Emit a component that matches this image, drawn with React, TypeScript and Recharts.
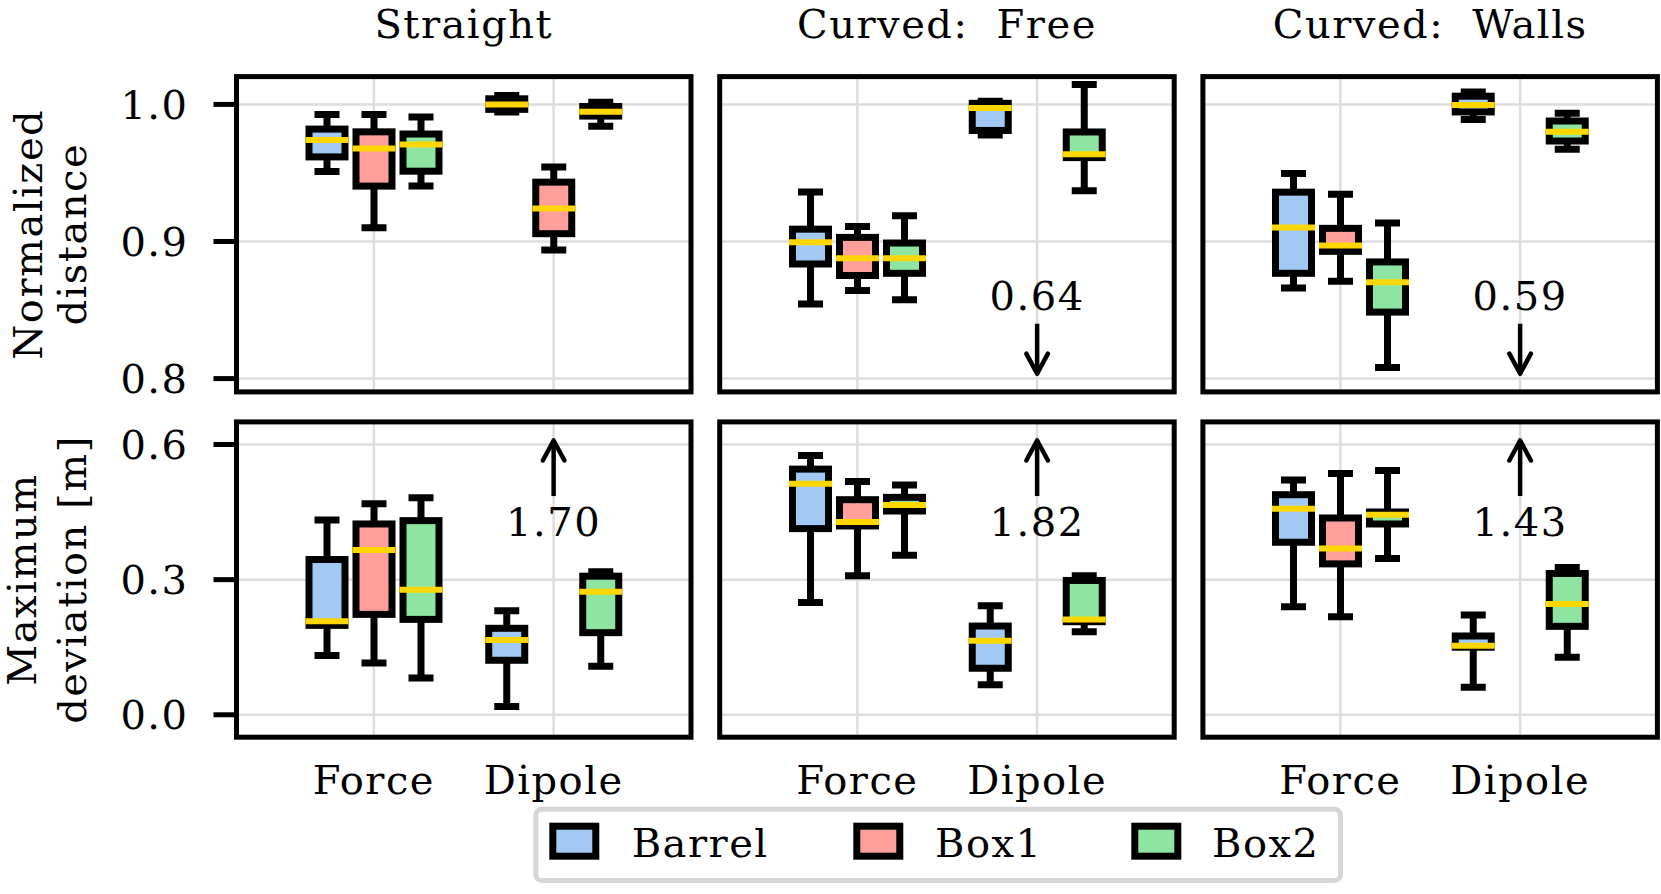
import React from 'react';
import { ComposedChart, Bar, XAxis, YAxis, CartesianGrid, ReferenceDot, ReferenceLine } from 'recharts';

type Box = number[] | null;

const FONT = '"DejaVu Serif", serif';

const CATEGORIES = ['Force', 'Dipole'];
const SERIES = ['Barrel', 'Box1', 'Box2'];
const SERIES_COLORS = ['#a1c9f4', '#ff9f9b', '#8de5a1'];
const MEDIAN_COLOR = '#ffd700';
const PANEL_TITLES = ['Straight', 'Curved: Free', 'Curved: Walls'];
const ROW_LABELS = [
  ['Normalized', 'distance'],
  ['Maximum', 'deviation [m]'],
];
const DIST_TICKS = [0.8, 0.9, 1.0];
const DEV_TICKS = [0.0, 0.3, 0.6];
const DIST_DOMAIN = [0.79, 1.02];
const DEV_DOMAIN = [-0.05, 0.65];

// each box: [lower whisker, Q1, median, Q3, upper whisker]
// rows: Force, Dipole ; columns: Barrel, Box1, Box2
const distStraight: Box[][] = [
  [[0.951, 0.9617, 0.974, 0.982, 0.9927], [0.91, 0.9404, 0.9678, 0.98, 0.9927], [0.9404, 0.9513, 0.9707, 0.9784, 0.9908]],
  [[0.9944, 0.9964, 1.0, 1.0041, 1.0065], [0.8938, 0.9057, 0.924, 0.9433, 0.9544], [0.984, 0.9915, 0.9947, 0.9985, 1.0015]],
];
const distFree: Box[][] = [
  [[0.8545, 0.8836, 0.8994, 0.909, 0.9362], [0.8642, 0.8752, 0.8878, 0.903, 0.911], [0.8575, 0.8768, 0.8878, 0.8989, 0.9188]],
  [[0.9777, 0.981, 0.9974, 1.0008, 1.0024], null, [0.937, 0.9612, 0.9636, 0.9799, 1.0145]],
];
const distWalls: Box[][] = [
  [[0.866, 0.8768, 0.9103, 0.936, 0.9496], [0.871, 0.8928, 0.897, 0.9096, 0.9345], [0.808, 0.8485, 0.8703, 0.8851, 0.9135]],
  [[0.989, 0.9945, 0.9995, 1.006, 1.009], null, [0.9673, 0.9733, 0.98, 0.9879, 0.9935]],
];
const devStraight: Box[][] = [
  [[0.1314, 0.1985, 0.2074, 0.3447, 0.4325], [0.115, 0.2229, 0.366, 0.4236, 0.4686], [0.0819, 0.2118, 0.2775, 0.431, 0.482]],
  [[0.0185, 0.121, 0.166, 0.192, 0.231], null, [0.1077, 0.1823, 0.273, 0.3077, 0.3173]],
];
const devFree: Box[][] = [
  [[0.2494, 0.4133, 0.5129, 0.5454, 0.5756], [0.3085, 0.4192, 0.428, 0.4775, 0.5181], [0.3542, 0.4524, 0.4657, 0.4827, 0.51]],
  [[0.0664, 0.1033, 0.1646, 0.197, 0.242], null, [0.1845, 0.2066, 0.2118, 0.2982, 0.3085]],
];
const devWalls: Box[][] = [
  [[0.2399, 0.383, 0.4576, 0.4886, 0.521], [0.2177, 0.335, 0.369, 0.4369, 0.5358], [0.3469, 0.4236, 0.4443, 0.4502, 0.5424]],
  [[0.0613, 0.15, 0.1535, 0.1749, 0.2214], null, [0.1277, 0.1963, 0.2458, 0.3137, 0.327]],
];

// off-scale Box1 / Dipole medians, shown as text with an arrow
const distOffscale: (number | null)[] = [null, 0.64, 0.59];
const devOffscale: (number | null)[] = [1.7, 1.82, 1.43];

const DIST = [distStraight, distFree, distWalls];
const DEV = [devStraight, devFree, devWalls];

// layout
const PLOT_W = 454.5;
const PLOT_H = 315.3;
const COL_X = [236.5, 719.7, 1202.9];
const ROW_Y = [76.6, 421.9];
const MT = 10;
const MR = 3;
const ML = 10;
const XAXIS_H = 70;
const ANN = [
  { textY: 0.8497, tail: 0.84, tip: 0.8036, up: false },
  { textY: 0.397, tail: 0.4856, tip: 0.609, up: true },
];
const LEGEND_PATCH_X = [549.3, 853.3, 1131.3];
const LEGEND_TEXT_X = [631.7, 935, 1212];

const textStyle = { fill: '#000', fontSize: 40, fontFamily: FONT, letterSpacing: 1.5 };

function BoxShape(props: any) {
  const { x, y, width, height, box, color } = props;
  if (!box || !isFinite(y) || !isFinite(height) || !isFinite(x)) return <g />;
  const top = Math.min(y, y + height);
  const h = Math.abs(height);
  const [lo, q1, med, q3, hi] = box;
  const ppu = h / (hi - lo);
  const Y = (v: number) => top + (hi - v) * ppu;
  const cx = x + width / 2;
  const lw = 7;
  const capW = 25;
  return (
    <g>
      <line x1={cx} x2={cx} y1={Y(hi)} y2={Y(q3)} stroke="#000" strokeWidth={lw} />
      <line x1={cx} x2={cx} y1={Y(q1)} y2={Y(lo)} stroke="#000" strokeWidth={lw} />
      <line x1={cx - capW / 2} x2={cx + capW / 2} y1={Y(hi)} y2={Y(hi)} stroke="#000" strokeWidth={lw} />
      <line x1={cx - capW / 2} x2={cx + capW / 2} y1={Y(lo)} y2={Y(lo)} stroke="#000" strokeWidth={lw} />
      <rect x={x} y={Y(q3)} width={width} height={Y(q1) - Y(q3)} fill={color} stroke="#000" strokeWidth={lw} />
      <line x1={x - lw / 2} x2={x + width + lw / 2} y1={Y(med)} y2={Y(med)} stroke={MEDIAN_COLOR} strokeWidth={6} />
    </g>
  );
}

function Panel({ row, col }: { row: number; col: number }) {
  const boxes = (row === 0 ? DIST : DEV)[col];
  const data = CATEGORIES.map((c, i) => ({ cat: c, Barrel: boxes[i][0], Box1: boxes[i][1], Box2: boxes[i][2] }));
  const isLeft = col === 0;
  const isBottom = row === 1;
  const leftSpace = isLeft ? COL_X[0] : ML;
  const width = leftSpace + PLOT_W + MR;
  const height = MT + PLOT_H + (isBottom ? XAXIS_H : MT);
  const off = (row === 0 ? distOffscale : devOffscale)[col];
  const ann = ANN[row];
  return (
    <div style={{ position: 'absolute', left: COL_X[col] - leftSpace, top: ROW_Y[row] - MT }}>
      <ComposedChart
        width={width}
        height={height}
        data={data}
        margin={{ top: MT, right: MR, bottom: isBottom ? 0 : MT, left: isLeft ? 0 : ML }}
        barSize={36}
        barGap={11}
      >
        <CartesianGrid stroke="#dddddd" strokeWidth={2.5} />
        <XAxis
          dataKey="cat"
          type="category"
          hide={!isBottom}
          height={XAXIS_H}
          padding={{ left: 47.5, right: 47.5 }}
          axisLine={false}
          tickLine={false}
          tickSize={0}
          tickMargin={28}
          interval={0}
          tick={textStyle}
        />
        <YAxis
          type="number"
          domain={row === 0 ? DIST_DOMAIN : DEV_DOMAIN}
          ticks={row === 0 ? DIST_TICKS : DEV_TICKS}
          allowDataOverflow
          hide={!isLeft}
          width={isLeft ? COL_X[0] : 0}
          axisLine={false}
          tickLine={{ stroke: '#000', strokeWidth: 5 }}
          tickSize={23}
          tickMargin={25}
          tickFormatter={(v: number) => v.toFixed(1)}
          tick={textStyle}
        />
        {SERIES.map((s, si) => (
          <Bar
            key={s}
            dataKey={(d: any) => (d[s] ? [d[s][0], d[s][4]] : null)}
            barSize={36}
            isAnimationActive={false}
            shape={(p: any) => <BoxShape {...p} box={p.payload ? p.payload[s] : null} color={SERIES_COLORS[si]} />}
          />
        ))}
        {off != null && (
          <ReferenceLine
            segment={[{ x: 'Dipole', y: ann.tail }, { x: 'Dipole', y: ann.tip }]}
            stroke="#000"
            strokeWidth={4.5}
            ifOverflow="visible"
          />
        )}
        {off != null && (
          <ReferenceDot
            x="Dipole"
            y={ann.tip}
            ifOverflow="visible"
            shape={(p: any) => {
              const d = ann.up ? -1 : 1;
              return (
                <path
                  d={`M ${p.cx - 10.8} ${p.cy - d * 20} L ${p.cx} ${p.cy} L ${p.cx + 10.8} ${p.cy - d * 20}`}
                  stroke="#000"
                  strokeWidth={4.5}
                  fill="none"
                  strokeLinecap="round"
                  strokeLinejoin="round"
                />
              );
            }}
          />
        )}
        {off != null && (
          <ReferenceDot
            x="Dipole"
            y={ann.textY}
            ifOverflow="visible"
            shape={(p: any) => (
              <text x={p.cx} y={p.cy} textAnchor="middle" style={textStyle as any}>
                {off.toFixed(2)}
              </text>
            )}
          />
        )}
      </ComposedChart>
    </div>
  );
}

export default function App() {
  const rows = [0, 1];
  const cols = [0, 1, 2];
  return (
    <div
      style={{
        position: 'absolute',
        left: 0,
        top: 0,
        width: 1661,
        height: 894,
        overflow: 'hidden',
        background: '#fff',
        fontFamily: FONT,
      }}
    >
      {rows.map((r) => cols.map((c) => <Panel key={`${r}-${c}`} row={r} col={c} />))}
      <svg
        width={1661}
        height={894}
        style={{ position: 'absolute', left: 0, top: 0, pointerEvents: 'none' }}
      >
        {rows.map((r) =>
          cols.map((c) => (
            <rect
              key={`f${r}${c}`}
              x={COL_X[c]}
              y={ROW_Y[r]}
              width={PLOT_W}
              height={PLOT_H}
              fill="none"
              stroke="#000"
              strokeWidth={5}
            />
          ))
        )}
        {PANEL_TITLES.map((t, c) => (
          <text
            key={t}
            x={COL_X[c] + PLOT_W / 2}
            y={37.5}
            textAnchor="middle"
            style={{ ...(textStyle as any), wordSpacing: 14 }}
          >
            {t}
          </text>
        ))}
        {ROW_LABELS.map((lines, r) => {
          const cy = ROW_Y[r] + PLOT_H / 2;
          const xs = r === 0 ? [42, 86] : [36, 86];
          return lines.map((ln, i) => (
            <text
              key={ln}
              x={xs[i]}
              y={cy}
              textAnchor="middle"
              transform={`rotate(-90 ${xs[i]} ${cy})`}
              style={textStyle as any}
            >
              {ln}
            </text>
          ));
        })}
        <rect x={535.8} y={809.2} width={804.7} height={71.3} rx={6} fill="#fff" stroke="#d6d6d6" strokeWidth={5} />
        {SERIES.map((s, i) => (
          <g key={s}>
            <rect
              x={LEGEND_PATCH_X[i] + 3.5}
              y={826.2}
              width={43}
              height={30}
              fill={SERIES_COLORS[i]}
              stroke="#000"
              strokeWidth={7}
            />
            <text x={LEGEND_TEXT_X[i]} y={856.7} style={textStyle as any}>
              {s}
            </text>
          </g>
        ))}
      </svg>
    </div>
  );
}
